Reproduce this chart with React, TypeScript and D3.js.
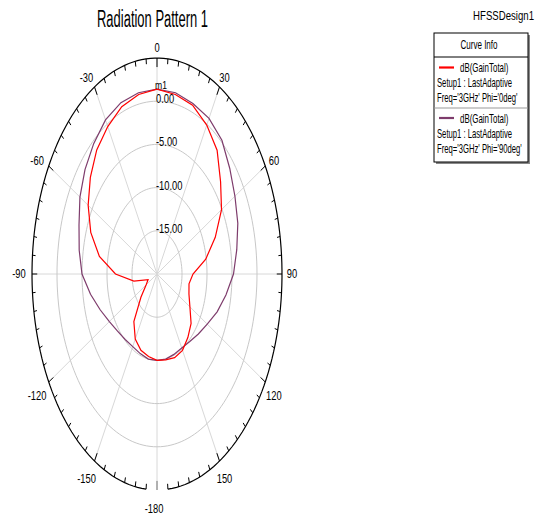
import React from "react";
import * as d3 from "d3";

// theta sweep of the far field cut, degrees
const theta = d3.range(-180, 181, 10);

// dB(GainTotal), Phi = 0deg
const gainPhi0 = [
  -10.0, -10.3, -10.6, -11.3, -12.8, -15.8, -17.5, -18.1, -15.3, -11.7,
  -8.3, -5.9, -4.1, -2.6, -1.25, -0.3, 0.6, 1.1, 1.4, 1.1,
  0.8, -0.1, -1.3, -3.4, -5.1, -7.6, -10.1, -12.8, -13.5, -13.2,
  -12.4, -11.1, -10.4, -9.8, -9.7, -9.9, -10.0,
];

// dB(GainTotal), Phi = 90deg
const gainPhi90 = [
  -10.0, -10.0, -10.2, -10.3, -10.1, -9.7, -9.0, -7.9, -6.5, -5.0,
  -4.2, -3.4, -2.2, -1.2, -0.3, 0.6, 1.1, 1.3, 1.4, 1.3,
  1.0, 0.8, 0.2, -1.0, -2.0, -2.8, -3.8, -4.7, -6.0, -7.2,
  -8.4, -9.2, -9.8, -10.1, -10.1, -10.0, -10.0,
];

const ringValues = [-15, -10, -5, 0];
const ringLabels = ["-15.00", "-10.00", "-5.00", "0.00"];
const spokeAngles = d3.range(-180, 180, 30);
const angleLabelAngles = [0, 30, 60, 90, 120, 150, 180, -150, -120, -90, -60, -30];
const angleLabels = ["0", "30", "60", "90", "120", "150", "-180", "-150", "-120", "-90", "-60", "-30"];

const legendEntries = [
  { name: "dB(GainTotal)", setup: "Setup1 : LastAdaptive", freq: "Freq='3GHz' Phi='0deg'", color: "#ff0000" },
  { name: "dB(GainTotal)", setup: "Setup1 : LastAdaptive", freq: "Freq='3GHz' Phi='90deg'", color: "#7e3c6c" },
];

const W = 535, H = 518;
const CX = 157, CY = 274, RX = 125, RY = 216;
const FONT = "'Liberation Sans', Arial, sans-serif";

const r = d3.scaleLinear().domain([-20, 5]).range([0, 1]).clamp(true);
const rad = (deg: number) => (deg * Math.PI) / 180;
const px = (deg: number, n: number) => CX + n * RX * Math.sin(rad(deg));
const py = (deg: number, n: number) => CY - n * RY * Math.cos(rad(deg));

const line = d3.line<[number, number]>().x((d) => d[0]).y((d) => d[1]);

function ringPath(n: number, from = -180, to = 180) {
  return line(d3.range(from, to + 0.5, 2).map((a) => [px(a, n), py(a, n)] as [number, number]));
}

function curvePath(vals: number[]) {
  return line(theta.map((a, i) => [px(a, r(vals[i])), py(a, r(vals[i]))] as [number, number]));
}

function Narrow(props: { x: number; y: number; sx?: number; size?: number; anchor?: string; fill?: string; children: string }) {
  const { x, y, sx = 0.78, size = 12, anchor = "start", fill = "#000", children } = props;
  return (
    <text transform={`translate(${x},${y}) scale(${sx},1)`} fontSize={size} textAnchor={anchor} fill={fill} fontFamily={FONT}>
      {children}
    </text>
  );
}

export default function App() {
  const ticks = d3.range(-175, 176, 5);
  return (
    <svg width={W} height={H} style={{ position: "absolute", left: 0, top: 0, background: "#fff" }}>
      <rect width={W} height={H} fill="#fff" />

      {/* title */}
      <text x={152.5} y={26.5} fontSize={23} textAnchor="middle" textLength={111} lengthAdjust="spacingAndGlyphs" fontFamily={FONT}>
        Radiation Pattern 1
      </text>
      <Narrow x={534} y={20} size={13} sx={0.74} anchor="end">HFSSDesign1</Narrow>

      {/* grid */}
      {spokeAngles.map((a) => (
        <line key={a} x1={CX} y1={CY} x2={px(a, 1)} y2={py(a, 1)} stroke="#d8d8d8" strokeWidth={1} />
      ))}
      {ringValues.map((v) => (
        <path key={v} d={ringPath(r(v)) || ""} fill="none" stroke="#c8c8c8" strokeWidth={1} />
      ))}
      <path d={ringPath(1, -175, 175) || ""} fill="none" stroke="#000" strokeWidth={1.2} />
      {ticks.map((a) => {
        const len = a % 30 === 0 ? 0.042 : 0.025;
        return <line key={a} x1={px(a, 1)} y1={py(a, 1)} x2={px(a, 1 - len)} y2={py(a, 1 - len)} stroke="#000" strokeWidth={1} />;
      })}
      <line x1={px(180, 1)} y1={py(180, 1)} x2={px(180, 0.958)} y2={py(180, 0.958)} stroke="#777" strokeWidth={1} />

      {/* angle labels */}
      {angleLabelAngles.map((a, i) => {
        const c = Math.cos(rad(a));
        const x = CX + (RX + 10) * Math.sin(rad(a)) - (angleLabels[i].startsWith("-") ? 3 : 0);
        const y = CY - (RY + 10) * c + (c < -0.3 ? 9 : 0) + 4;
        return <Narrow key={a} x={x} y={y} anchor="middle">{angleLabels[i]}</Narrow>;
      })}

      {/* ring labels */}
      {ringValues.map((v, i) => (
        <Narrow key={v} x={CX - 1} y={py(0, r(v)) + 2}>{ringLabels[i]}</Narrow>
      ))}

      {/* curves */}
      <path d={curvePath(gainPhi90) || ""} fill="none" stroke={legendEntries[1].color} strokeWidth={1.2} />
      <path d={curvePath(gainPhi0) || ""} fill="none" stroke={legendEntries[0].color} strokeWidth={1.2} />
      <Narrow x={155} y={89} size={11}>m1</Narrow>

      {/* legend */}
      <rect x={436} y={35} width={94} height={129} fill="#888" />
      <rect x={434} y={33} width={94} height={129} fill="#fff" stroke="#000" strokeWidth={1} />
      <Narrow x={479} y={49} sx={0.67} anchor="middle">Curve Info</Narrow>
      <line x1={434} x2={528} y1={57} y2={57} stroke="#000" />
      <line x1={434} x2={528} y1={108} y2={108} stroke="#999" />
      {legendEntries.map((e, i) => {
        const y0 = 67.5 + i * 50.5;
        return (
          <g key={i}>
            <line x1={439} x2={454} y1={y0} y2={y0} stroke={e.color} strokeWidth={2.2} />
            <Narrow x={460} y={y0 + 4.5} sx={0.66}>{e.name}</Narrow>
            <Narrow x={437} y={y0 + 19.5} sx={0.64}>{e.setup}</Narrow>
            <Narrow x={437} y={y0 + 34.5} sx={0.64}>{e.freq}</Narrow>
          </g>
        );
      })}
    </svg>
  );
}
